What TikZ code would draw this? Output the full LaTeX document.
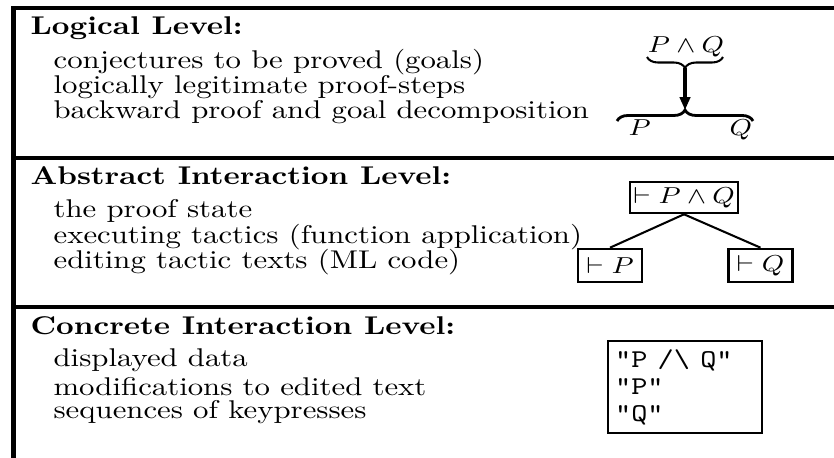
\documentclass[tikz,border=0pt]{standalone}
\usepackage{amsmath,amssymb}
\usepackage{tikz}
\usetikzlibrary{arrows.meta,positioning,decorations.pathreplacing}

\begin{document}
\begin{tikzpicture}[
  x=0.39pt,y=-0.39pt,
  every node/.style={xscale=1.2,transform shape},
  heading/.style={anchor=base west,inner sep=0pt,font=\bfseries},
  entry/.style={anchor=base west,inner sep=0pt},
  formula/.style={anchor=base west,inner sep=0pt,font=\small},
  divider/.style={line width=1.6pt},
  goal/.style={draw,line width=1pt,inner xsep=0.5pt,inner ysep=1pt,font=\small},
  link/.style={line width=0.8pt},
  screen/.style={draw,line width=0.9pt,align=left,font=\ttfamily\fontsize{10}{10.5}\selectfont,
    text width=45.4pt,inner xsep=2.3pt,minimum height=35.9pt},
  brc/.style={decorate,decoration={brace,amplitude=4.3pt}},
  arr/.style={-{Triangle[length=5pt,width=4pt]},line width=1.2pt}
]
\useasboundingbox (0,0) rectangle (834,458);
% frame and level separators
\draw[divider] (840,8) -- (13.5,8) -- (13.5,464);
\draw[divider] (13.5,158) -- (840,158);
\draw[divider] (13.5,307) -- (840,307);

% logical level
\node[heading] (logical) at (30,35) {Logical Level:};
\node[entry] (goals) at (53,69) {conjectures to be proved (goals)};
\node[entry] (steps) at (53,94) {logically legitimate proof-steps};
\node[entry] (backward) at (53,119) {backward proof and goal decomposition};
\node[formula,anchor=base] (conj) at (686,53) {$P \wedge Q$};
\node[formula] (lhs) at (628,136) {$P$};
\node[formula] (rhs) at (729,136) {$Q$};
\coordinate (conjtip) at (685,68);
\coordinate (splittip) at (685,110);
\draw[brc,line width=0.8pt] (723,57) -- (647,57);
\draw[brc,line width=1.1pt] (617,121) -- (753,121);
\draw[arr] (conjtip) -- (splittip);

% abstract interaction level
\node[heading] (abstract) at (30,185) {Abstract Interaction Level:};
\node[entry] (state) at (53,218) {the proof state};
\node[entry] (tactics) at (53,243) {executing tactics (function application)};
\node[entry] (editing) at (53,268) {editing tactic texts (ML code)};
\node[goal,minimum width=35pt,minimum height=12.1pt] (root) at (684,197.5) {$\vdash P \wedge Q$};
\node[goal,minimum width=20.8pt,minimum height=12.9pt] (subp) at (610,265.5) {$\vdash P$};
\node[goal,minimum width=20.8pt,minimum height=12.9pt] (subq) at (760.5,265.5) {$\vdash Q$};
\draw[link] (root.south) -- (subp.north);
\draw[link] (root.south) -- (subq.north);

% concrete interaction level
\node[heading] (concrete) at (30,334) {Concrete Interaction Level:};
\node[entry] (data) at (53,366) {displayed data};
\node[entry] (mods) at (53,395) {modifications to edited text};
\node[entry] (keys) at (53,418) {sequences of keypresses};
\node[screen] (shown) at (685,387) {"P /\textbackslash{} Q"\\"P"\\"Q"};
\end{tikzpicture}
\end{document}
